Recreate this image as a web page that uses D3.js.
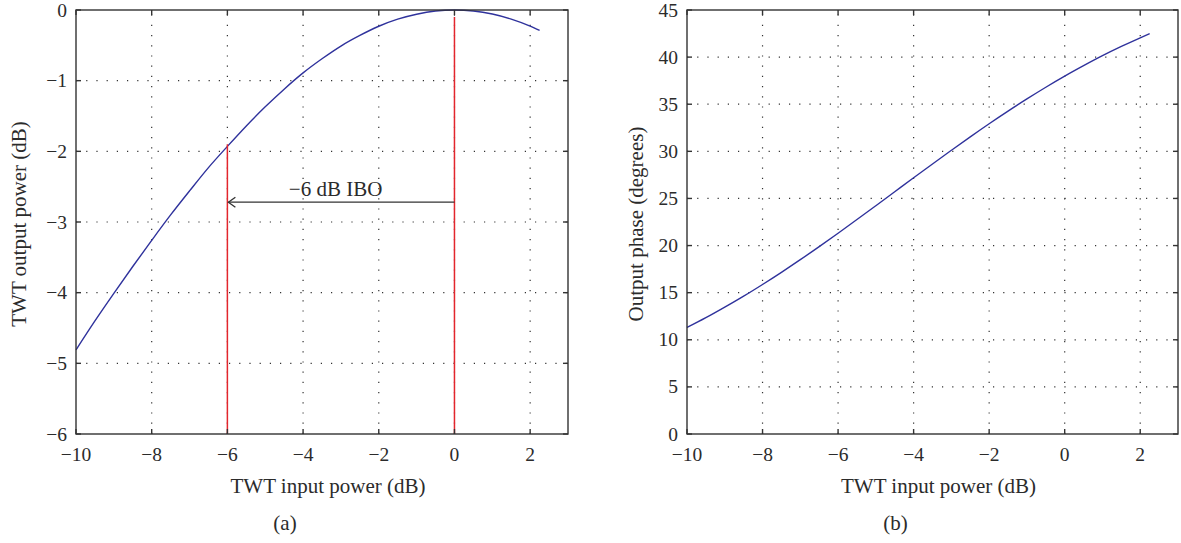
<!DOCTYPE html>
<html lang="en">
<head>
    <meta charset="UTF-8">
    <title>TWT AM/AM and AM/PM</title>
    <script src="https://d3js.org/d3.v7.min.js"></script>
    <style>
        body { margin: 0; background: #fff; }
        text { font-family: "Liberation Serif", "DejaVu Serif", serif; fill: #2b2b2b; }
    </style>
</head>
<body>
    <div id="chart"></div>
    <script>
        // values
        var inputDb = [-10, -9.5, -9, -8.5, -8, -7.5, -7, -6.5, -6, -5.5, -5, -4.5, -4, -3.5, -3,
            -2.5, -2, -1.5, -1, -0.5, 0, 0.5, 1, 1.5, 2, 2.25];
        var outputDb = [-4.81, -4.40, -4.01, -3.63, -3.26, -2.90, -2.56, -2.23, -1.93, -1.64, -1.37,
            -1.12, -0.89, -0.69, -0.51, -0.36, -0.23, -0.13, -0.06, -0.015, 0, -0.014, -0.057,
            -0.129, -0.228, -0.288];
        var phaseDeg = [11.30, 12.34, 13.46, 14.63, 15.87, 17.16, 18.50, 19.89, 21.31, 22.76, 24.23,
            25.71, 27.19, 28.66, 30.11, 31.54, 32.93, 34.27, 35.56, 36.80, 37.98, 39.09, 40.15,
            41.13, 42.05, 42.49];

        var xTicks = [-10, -8, -6, -4, -2, 0, 2];
        var ampTicks = [-6, -5, -4, -3, -2, -1, 0];
        var phaseTicks = [0, 5, 10, 15, 20, 25, 30, 35, 40, 45];

        var markerX = [-6, 0];
        var markerTop = [-1.9, -0.1];
        var iboArrow = { from: 0, to: -6, level: -2.72, label: "\u22126 dB IBO", labelX: -3.14, labelY: -2.63 };

        var W = 1181, H = 543;
        var svg = d3.select("#chart").append("svg")
            .attr("width", W)
            .attr("height", H);

        function fmt(v) {
            return v < 0 ? "\u2212" + Math.abs(v) : String(v);
        }

        function drawPanel(opt) {
            var g = svg.append("g");
            var x = d3.scaleLinear().domain([-10, 3]).range([opt.left, opt.right]);
            var y = d3.scaleLinear().domain(opt.yDomain).range([434, 10]);

            // dotted grid
            g.append("g").selectAll("line")
                .data(xTicks.filter(function(d) { return d > -10; }))
                .enter().append("line")
                .attr("x1", function(d) { return x(d); })
                .attr("x2", function(d) { return x(d); })
                .attr("y1", y.range()[0])
                .attr("y2", y.range()[1])
                .style("stroke", "#333")
                .style("stroke-width", 1.2)
                .style("stroke-dasharray", "1.2,9");
            g.append("g").selectAll("line")
                .data(opt.yTicks.slice(1, -1))
                .enter().append("line")
                .attr("x1", opt.left)
                .attr("x2", opt.right)
                .attr("y1", function(d) { return y(d); })
                .attr("y2", function(d) { return y(d); })
                .style("stroke", "#333")
                .style("stroke-width", 1.2)
                .style("stroke-dasharray", "1.2,9");

            // curve
            var line = d3.line()
                .x(function(d, i) { return x(inputDb[i]); })
                .y(function(d) { return y(d); })
                .curve(d3.curveMonotoneX);
            g.append("path")
                .datum(opt.values)
                .attr("d", line)
                .style("fill", "none")
                .style("stroke", "#2f329c")
                .style("stroke-width", 1.4);

            if (opt.extra) opt.extra(g, x, y);

            // box
            g.append("rect")
                .attr("x", opt.left)
                .attr("y", 10)
                .attr("width", opt.right - opt.left)
                .attr("height", 424)
                .style("fill", "none")
                .style("stroke", "#333")
                .style("stroke-width", 1.4);

            // inward ticks on all four sides
            var tl = 5;
            xTicks.forEach(function(d) {
                [[434, 434 - tl], [10, 10 + tl]].forEach(function(p) {
                    g.append("line")
                        .attr("x1", x(d)).attr("x2", x(d))
                        .attr("y1", p[0]).attr("y2", p[1])
                        .style("stroke", "#333").style("stroke-width", 1.4);
                });
                g.append("text")
                    .attr("x", x(d))
                    .attr("y", 461)
                    .style("text-anchor", "middle")
                    .style("font-size", "19.5px")
                    .text(fmt(d));
            });
            opt.yTicks.forEach(function(d) {
                [[opt.left, opt.left + tl], [opt.right, opt.right - tl]].forEach(function(p) {
                    g.append("line")
                        .attr("x1", p[0]).attr("x2", p[1])
                        .attr("y1", y(d)).attr("y2", y(d))
                        .style("stroke", "#333").style("stroke-width", 1.4);
                });
                g.append("text")
                    .attr("x", opt.left - 9)
                    .attr("y", y(d) + 6.5)
                    .style("text-anchor", "end")
                    .style("font-size", "19.5px")
                    .text(fmt(d));
            });

            // axis labels
            g.append("text")
                .attr("x", (opt.left + opt.right) / 2 + 6)
                .attr("y", 493)
                .style("text-anchor", "middle")
                .style("font-size", "21px")
                .text("TWT input power (dB)");
            g.append("text")
                .attr("transform", "translate(" + opt.yLabelX + ",224) rotate(-90)")
                .style("text-anchor", "middle")
                .style("font-size", "21px")
                .text(opt.yLabel);
            g.append("text")
                .attr("x", (opt.left + opt.right) / 2 - 37)
                .attr("y", 530)
                .style("text-anchor", "middle")
                .style("font-size", "21px")
                .text(opt.tag);
        }

        drawPanel({
            left: 76, right: 568,
            yDomain: [-6, 0], yTicks: ampTicks,
            values: outputDb,
            yLabel: "TWT output power (dB)", yLabelX: 26,
            tag: "(a)",
            extra: function(g, x, y) {
                // red marker lines
                g.append("g").selectAll("line")
                    .data(markerX)
                    .enter().append("line")
                    .attr("x1", function(d) { return x(d); })
                    .attr("x2", function(d) { return x(d); })
                    .attr("y1", y(-6))
                    .attr("y2", function(d, i) { return y(markerTop[i]); })
                    .style("stroke", "#e3262d")
                    .style("stroke-width", 1.5);

                // IBO arrow
                var ay = y(iboArrow.level), ax = x(iboArrow.to);
                g.append("line")
                    .attr("x1", x(iboArrow.from)).attr("x2", ax + 1)
                    .attr("y1", ay).attr("y2", ay)
                    .style("stroke", "#333").style("stroke-width", 1.3);
                g.append("path")
                    .attr("d", "M" + (ax + 8) + "," + (ay - 5) + "L" + (ax + 1) + "," + ay + "L" + (ax + 8) + "," + (ay + 5))
                    .style("fill", "none")
                    .style("stroke", "#333")
                    .style("stroke-width", 1.3);
                g.append("text")
                    .attr("x", x(iboArrow.labelX))
                    .attr("y", y(iboArrow.labelY))
                    .style("text-anchor", "middle")
                    .style("font-size", "21px")
                    .text(iboArrow.label);
            }
        });

        drawPanel({
            left: 687, right: 1178,
            yDomain: [0, 45], yTicks: phaseTicks,
            values: phaseDeg,
            yLabel: "Output phase (degrees)", yLabelX: 643,
            tag: "(b)"
        });
    </script>
</body>
</html>
